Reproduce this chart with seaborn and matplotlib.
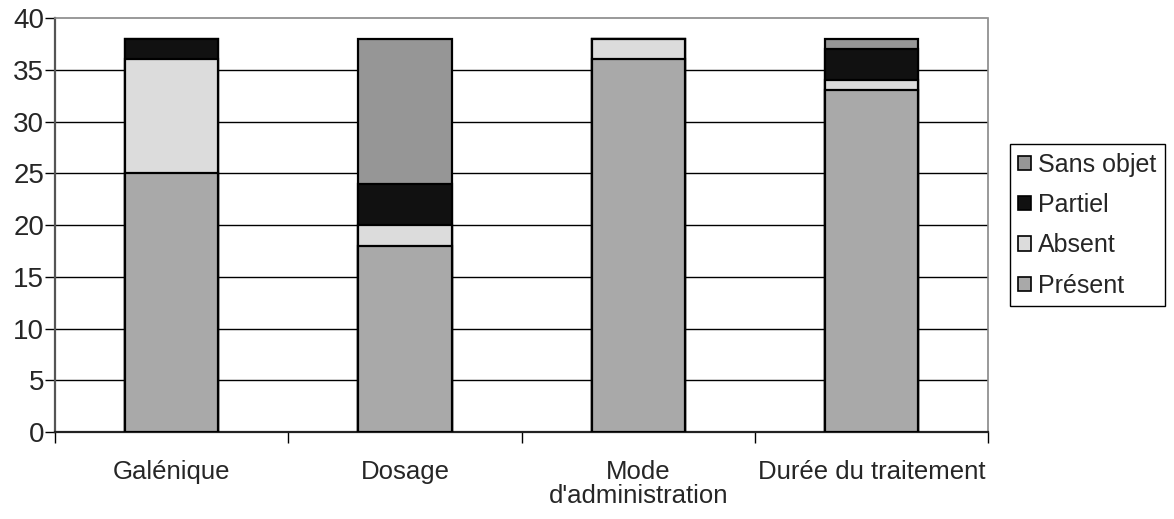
import numpy as np
import pandas as pd
import matplotlib
matplotlib.use("Agg")
import matplotlib.pyplot as plt
import seaborn as sns
from matplotlib.patches import Patch

sns.set_theme(style="white")
plt.rcParams['font.family'] = ['Liberation Sans', 'DejaVu Sans']

# data
categories = ["Galénique", "Dosage", "Mode\nd'administration", "Durée du traitement"]
series = ["Présent", "Absent", "Partiel", "Sans objet"]
present = [25, 18, 36, 33]
absent = [11, 2, 2, 1]
partiel = [2, 4, 0, 3]
sans_objet = [0, 14, 0, 1]

colors = {
    "Présent": "#a9a9a9",
    "Absent": "#dcdcdc",
    "Partiel": "#111111",
    "Sans objet": "#969696",
}

df = pd.DataFrame({"cat": categories, "Présent": present, "Absent": absent,
                   "Partiel": partiel, "Sans objet": sans_objet})
cum = df[series].cumsum(axis=1)

fig = plt.figure(figsize=(11.74, 5.19), dpi=100)
ax = fig.add_axes([0.047, 0.1676, 0.7946, 0.7977])

# stacked bars: draw cumulative totals from the top series down
for s in series[::-1]:
    sns.barplot(x=df["cat"], y=cum[s], color=colors[s], width=0.4,
                edgecolor="black", linewidth=1.6, ax=ax, zorder=3)

ax.set_ylim(0, 40)
ax.set_xlim(-0.5, 3.5)
ax.set_yticks(np.arange(0, 41, 5))
for yv in range(5, 40, 5):
    ax.axhline(yv, color="black", linewidth=1.0, zorder=1)

ax.set_xlabel("")
ax.set_ylabel("")
ax.set_xticks(range(len(categories)))
ax.set_xticklabels(categories, fontsize=18.5, linespacing=1.0)
ax.set_xticks(np.arange(-0.5, 3.6, 1), minor=True)
ax.tick_params(axis="x", which="major", length=0, pad=20)
ax.tick_params(axis="x", which="minor", length=8, width=1, color="black",
               direction="out", bottom=True)
ax.tick_params(axis="y", length=7, width=1, color="black", direction="out",
               left=True, labelsize=20, pad=1)

for side in ["top", "right"]:
    ax.spines[side].set_color("#888888")
    ax.spines[side].set_linestyle((0, (1, 1)))
    ax.spines[side].set_linewidth(1.2)
ax.spines["left"].set_color("#555555")
ax.spines["left"].set_linewidth(1.6)
ax.spines["bottom"].set_color("#222222")
ax.spines["bottom"].set_linewidth(1.6)

handles = [Patch(facecolor=colors[s], edgecolor="black", linewidth=1.2, label=s)
           for s in series[::-1]]
fig.legend(handles=handles, loc="upper left", bbox_to_anchor=(0.860, 0.7225),
           bbox_transform=fig.transFigure, borderaxespad=0, frameon=True,
           fancybox=False, edgecolor="black", framealpha=1, fontsize=18,
           handlelength=0.5, handleheight=0.5, handletextpad=0.3,
           labelspacing=0.65, borderpad=0.35)

fig.savefig("out.png", dpi=100)
